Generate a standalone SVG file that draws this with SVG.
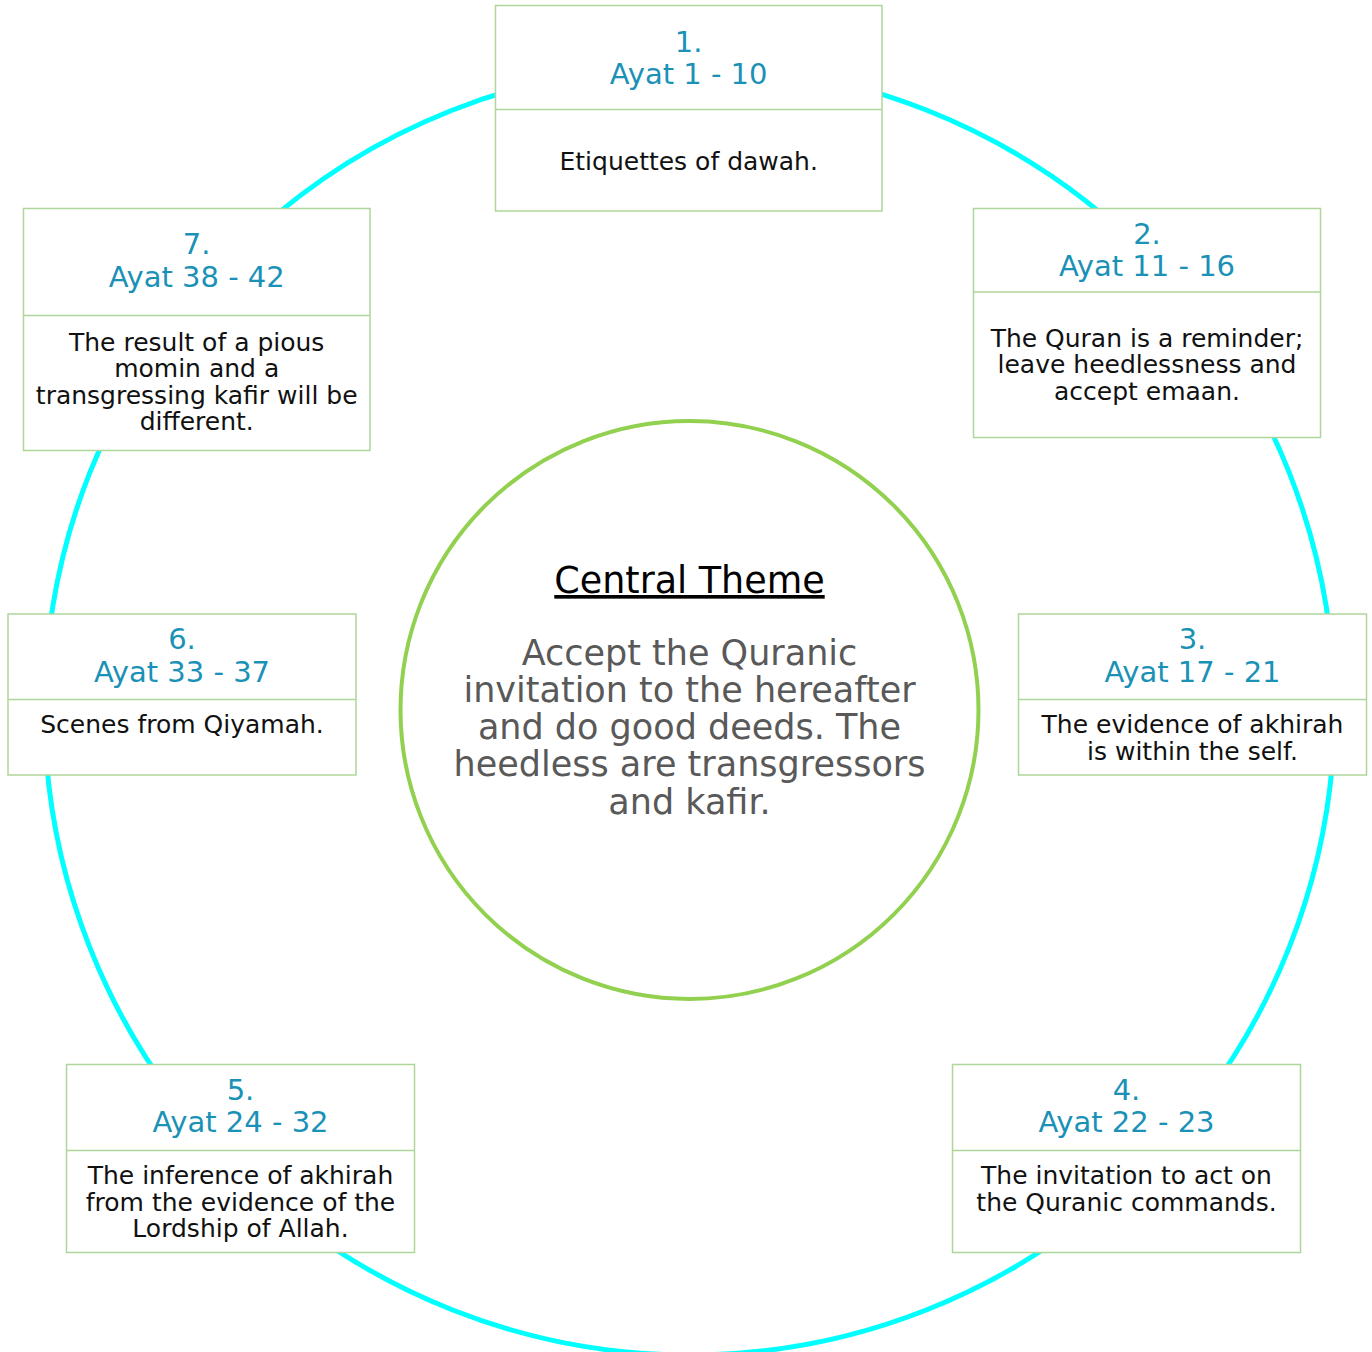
<svg xmlns="http://www.w3.org/2000/svg" width="1372" height="1352" viewBox="0 0 1372 1352">
<style>
.box{fill:#FFFFFF;stroke:#AED69A;stroke-width:1.5}
.div{stroke:#AED69A;stroke-width:1.5}
.t{font-family:"DejaVu Sans",sans-serif;font-size:29px;fill:#1A91B6;text-anchor:middle}
.b{font-family:"DejaVu Sans",sans-serif;font-size:25px;fill:#111111;text-anchor:middle}
.ct{font-family:"DejaVu Sans",sans-serif;font-size:36.5px;fill:#000000;text-anchor:middle;text-decoration:underline}
.cb{font-family:"DejaVu Sans",sans-serif;font-size:35px;fill:#595959;text-anchor:middle}
</style>
<rect x="0" y="0" width="1372" height="1352" fill="#FFFFFF"/>
<g id="connectors">
<circle cx="689.5" cy="710" r="645" fill="none" stroke="#00FFFF" stroke-width="5"/>
</g>
<g id="center">
<circle cx="689.5" cy="710" r="289" fill="#FFFFFF" stroke="#92D050" stroke-width="4"/>
<text class="ct" x="689.5" y="593">Central Theme</text>
<text class="cb" x="689.5" y="664.5">Accept the Quranic</text>
<text class="cb" x="689.5" y="701.5">invitation to the hereafter</text>
<text class="cb" x="689.5" y="739">and do good deeds. The</text>
<text class="cb" x="689.5" y="775.5">heedless are transgressors</text>
<text class="cb" x="689.5" y="813.5">and kafir.</text>
</g>
<g id="node1">
<rect class="box" x="495.5" y="5.5" width="386.5" height="205.5"/>
<line class="div" x1="495.5" y1="109.5" x2="882" y2="109.5"/>
<text class="t" x="688.7" y="52">1.</text>
<text class="t" x="688.7" y="83.5">Ayat 1 - 10</text>
<text class="b" x="688.7" y="170">Etiquettes of dawah.</text>
</g>
<g id="node2">
<rect class="box" x="973.5" y="208.5" width="347" height="229"/>
<line class="div" x1="973.5" y1="292" x2="1320.5" y2="292"/>
<text class="t" x="1147" y="243.5">2.</text>
<text class="t" x="1147" y="276">Ayat 11 - 16</text>
<text class="b" x="1147" y="346.5">The Quran is a reminder;</text>
<text class="b" x="1147" y="373">leave heedlessness and</text>
<text class="b" x="1147" y="399.5">accept emaan.</text>
</g>
<g id="node3">
<rect class="box" x="1018.5" y="614" width="348" height="161"/>
<line class="div" x1="1018.5" y1="699.5" x2="1366.5" y2="699.5"/>
<text class="t" x="1192.5" y="648.5">3.</text>
<text class="t" x="1192.5" y="681.5">Ayat 17 - 21</text>
<text class="b" x="1192.5" y="732.5">The evidence of akhirah</text>
<text class="b" x="1192.5" y="759.5">is within the self.</text>
</g>
<g id="node4">
<rect class="box" x="952.5" y="1064.5" width="348" height="188"/>
<line class="div" x1="952.5" y1="1150.5" x2="1300.5" y2="1150.5"/>
<text class="t" x="1126.5" y="1099.5">4.</text>
<text class="t" x="1126.5" y="1131.5">Ayat 22 - 23</text>
<text class="b" x="1126.5" y="1184">The invitation to act on</text>
<text class="b" x="1126.5" y="1210.5">the Quranic commands.</text>
</g>
<g id="node5">
<rect class="box" x="66.5" y="1064.5" width="348" height="188"/>
<line class="div" x1="66.5" y1="1150.5" x2="414.5" y2="1150.5"/>
<text class="t" x="240.5" y="1099.5">5.</text>
<text class="t" x="240.5" y="1131.5">Ayat 24 - 32</text>
<text class="b" x="240.5" y="1184">The inference of akhirah</text>
<text class="b" x="240.5" y="1210.5">from the evidence of the</text>
<text class="b" x="240.5" y="1237">Lordship of Allah.</text>
</g>
<g id="node6">
<rect class="box" x="8" y="614" width="348" height="161"/>
<line class="div" x1="8" y1="699.5" x2="356" y2="699.5"/>
<text class="t" x="182" y="648.5">6.</text>
<text class="t" x="182" y="681.5">Ayat 33 - 37</text>
<text class="b" x="182" y="732.5">Scenes from Qiyamah.</text>
</g>
<g id="node7">
<rect class="box" x="23.5" y="208.5" width="346.5" height="242"/>
<line class="div" x1="23.5" y1="315.5" x2="370" y2="315.5"/>
<text class="t" x="196.7" y="253.5">7.</text>
<text class="t" x="196.7" y="286.5">Ayat 38 - 42</text>
<text class="b" x="196.7" y="350.5">The result of a pious</text>
<text class="b" x="196.7" y="377">momin and a</text>
<text class="b" x="196.7" y="403.5">transgressing kafir will be</text>
<text class="b" x="196.7" y="430">different.</text>
</g>
</svg>
